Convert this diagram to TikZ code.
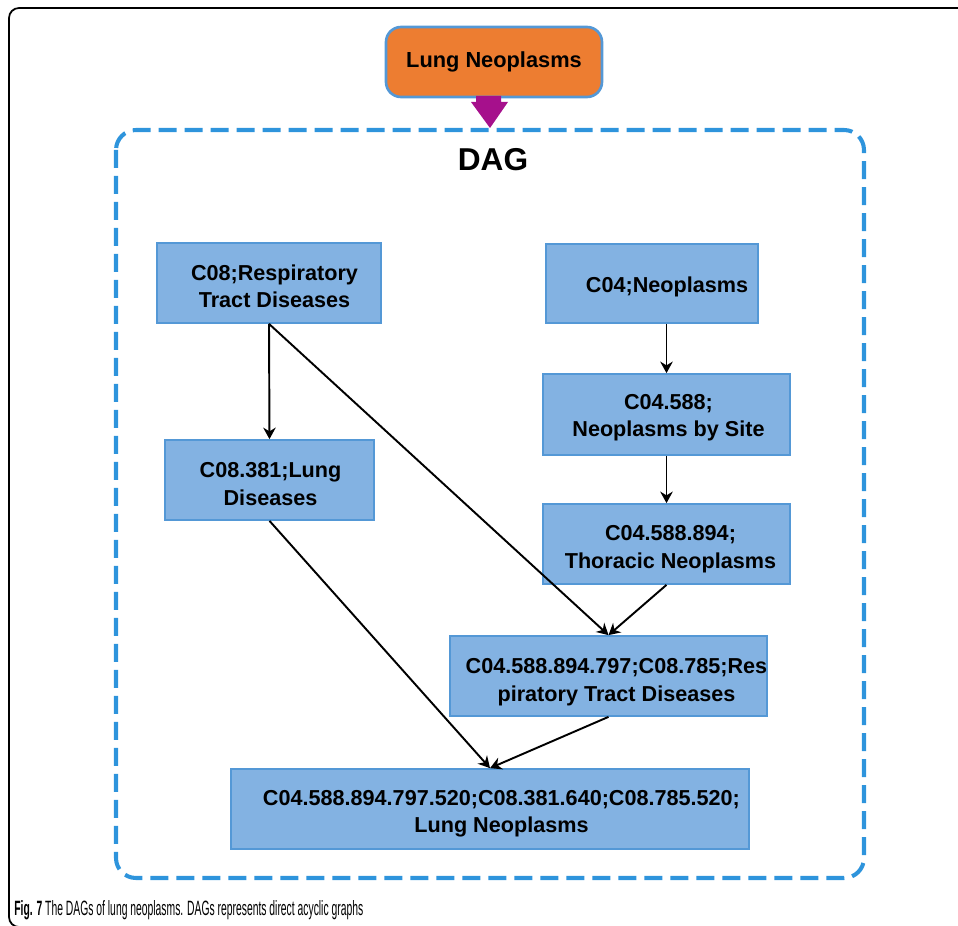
\documentclass[tikz,border=0pt]{standalone}
\usepackage{fontspec}
\usepackage{graphicx}
\setmainfont{Liberation Sans}
\usetikzlibrary{arrows.meta}
\definecolor{boxfill}{RGB}{131,178,226}
\definecolor{boxline}{RGB}{84,152,214}
\definecolor{queryfill}{RGB}{237,125,49}
\definecolor{dagblue}{RGB}{46,148,220}
\definecolor{dagmagenta}{RGB}{166,16,140}

\begin{document}
\begin{tikzpicture}[x=0.02cm, y=-0.02cm,
  term/.style = {draw=boxline, line width=1pt, fill=boxfill, inner sep=0pt,
    minimum height=1.6cm},
  termtext/.style = {align=center, inner sep=0pt,
    font=\fontsize{12.3}{15.6}\selectfont\bfseries},
  link/.style = {-{Stealth[length=2.3mm, width=2.5mm]}, line width=1.1pt}]
  \useasboundingbox (0,0) rectangle (958,926);

  \draw[line width=1pt, rounded corners=0.2cm] (975,8) -- (9,8) -- (9,927) -- (975,927);

  \node[draw=boxline, line width=1.5pt, fill=queryfill, rounded corners=0.3cm,
    minimum width=4.32cm, minimum height=1.4cm,
    font=\fontsize{12.4}{15}\selectfont\bfseries] (query) at (494,62) {Lung Neoplasms};
  \fill[dagmagenta] (476,96) -- (501,96) -- (501,102) -- (508,102) -- (490,128)
    -- (471,102) -- (476,102) -- cycle;

  \draw[dagblue, line width=2.3pt, dash pattern=on 3.6mm off 1.6mm,
    rounded corners=0.4cm] (116,130) rectangle (864,878);
  \node[font=\fontsize{18}{20}\selectfont\bfseries] (dag) at (493,160) {DAG};

  \node[term, minimum width=4.48cm] (c08) at (269,283) {};
  \node[term, minimum width=4.24cm, minimum height=1.58cm] (c04) at (652,283.5) {};
  \node[term, minimum width=4.94cm, minimum height=1.62cm] (c04588) at (666.5,414.5) {};
  \node[term, minimum width=4.18cm] (c08381) at (269.5,480) {};
  \node[term, minimum width=4.94cm] (c04588894) at (666.5,544) {};
  \node[term, minimum width=6.34cm] (c08785) at (608.5,676) {};
  \node[term, minimum width=10.36cm] (c08785520) at (490,809) {};

  \node[termtext] (c08text) at ([shift={(5.5,3)}]c08.center) {C08;Respiratory\\Tract Diseases};
  \node[termtext] (c04text) at ([shift={(15,3)}]c04.center) {C04;Neoplasms};
  \node[termtext] (c04588text) at ([shift={(2,3)}]c04588.center) {C04.588;\\Neoplasms by Site};
  \node[termtext] (c08381text) at ([shift={(1,4)}]c08381.center) {C08.381;Lung\\Diseases};
  \node[termtext] (c04588894text) at ([shift={(4,5)}]c04588894.center) {C04.588.894;\\Thoracic Neoplasms};
  \node[termtext] (c08785text) at ([shift={(8,6)}]c08785.center) {C04.588.894.797;C08.785;Res\\piratory Tract Diseases};
  \node[termtext] (c08785520text) at ([shift={(11.5,5)}]c08785520.center) {C04.588.894.797.520;C08.381.640;C08.785.520;\\Lung Neoplasms};

  \draw[link] (c08.south) -- (c08381.north);
  \draw[link] (c08.south) -- (c08785.north);
  \draw[link] (c04.south -| c04588.north) -- (c04588.north);
  \draw[link] (c04588.south) -- (c04588894.north);
  \draw[link] (c04588894.south) -- (c08785.north);
  \draw[link] (c08381.south) -- (c08785520.north);
  \draw[link] (c08785.south) -- (c08785520.north);

  \node[anchor=base west, inner sep=0pt, font=\fontsize{10.3}{12}\selectfont] (caption) at (14,915)
    {\resizebox{6.98cm}{0.3cm}{\textbf{Fig. 7} The DAGs of lung neoplasms. DAGs represents direct acyclic graphs}};
\end{tikzpicture}
\end{document}
